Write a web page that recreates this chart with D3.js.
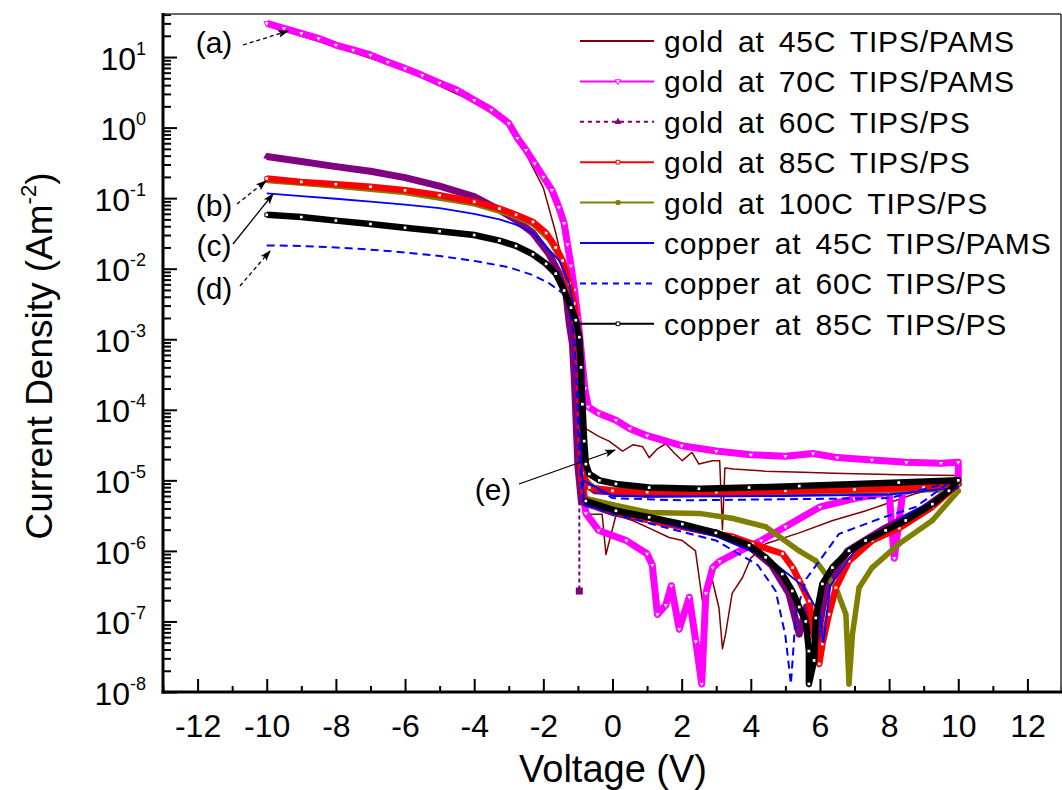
<!DOCTYPE html>
<html>
<head>
<meta charset="utf-8">
<script src="https://cdn.jsdelivr.net/npm/d3@7"></script>
<style>
  body { margin: 0; background: #fff; }
  text { font-family: "Liberation Sans", Arial, sans-serif; fill: #000; }
</style>
</head>
<body>
<svg id="chart" width="1062" height="790"></svg>
<script>
// Data: [voltage (V), current density (A m^-2)], in sweep order
const gold45 = [[-10,28],[-8,14],[-6,6.6],[-4,2.3],[-3,1.1],[-2.5,0.42],[-2,0.14],[-1.64,0.032],[-1.4,0.010],
  [-1.2,2.5e-3],[-1.05,5.0e-4],[-0.95,1.0e-4],[-0.77,5.4e-5],[-0.4,4.2e-5],[-0.1,3.6e-5],[0.29,2.6e-5],
  [0.6,3.2e-5],[0.87,3.0e-5],[1.06,2.1e-5],[1.3,2.8e-5],[1.54,3.3e-5],[1.8,2.4e-5],[2.02,1.9e-5],[2.3,2.5e-5],
  [2.5,1.7e-5],[2.89,1.9e-5],[3.1,1.9e-5],[3.18,2.0e-6],[3.25,1.5e-5],[3.5,1.45e-5],[4.4,1.35e-5],[5.5,1.3e-5],
  [6.4,1.26e-5],[8.3,1.2e-5],[10,1.17e-5],[10,8.9e-6],[8.77,6.5e-6],[7.33,3.7e-6],[6.37,2.7e-6],[5.4,1.8e-6],
  [4.43,1.26e-6],[4.0,7.9e-7],[3.76,4.2e-7],[3.46,2.5e-7],[3.27,6.6e-8],[3.18,4.1e-8],[3.08,1.55e-7],
  [2.89,3.8e-7],[2.6,1.95e-7],[2.4,1.0e-6],[2.02,1.4e-6],[1.64,1.55e-6],[1.06,2.1e-6],[0.58,2.7e-6],
  [0.1,3.2e-6],[-0.19,8.9e-7],[-0.3,3.3e-6],[-0.67,3.3e-6],[-0.85,6.3e-6]];

const gold70 = [[-10,30],[-9.5,25.5],[-9,21.7],[-8.5,18.4],[-8,14.8],[-7.5,12.6],[-7,10.7],[-6.5,8.5],[-6,6.9],
  [-5.5,5.5],[-5,4.3],[-4.5,3.4],[-4,2.45],[-3.5,1.78],[-3,1.15],[-2.75,0.71],[-2.5,0.48],[-2.25,0.31],[-2,0.20],
  [-1.75,0.13],[-1.55,0.074],[-1.4,0.044],[-1.3,0.022],[-1.2,0.011],[-1.1,5.0e-3],[-1,2.0e-3],[-0.9,6.3e-4],
  [-0.8,2.0e-4],[-0.7,1.1e-4],[-0.4,8.9e-5],[0.1,7.1e-5],[0.5,5.4e-5],[1,4.3e-5],[2,3.1e-5],[3,2.6e-5],
  [4,2.3e-5],[5,2.2e-5],[5.8,2.4e-5],[6.5,2.1e-5],[7.5,1.95e-5],[8.5,1.8e-5],[9.5,1.75e-5],[10,1.8e-5],
  [10,1.0e-5],[9.25,8.3e-6],[8.4,7.1e-6],[8.15,7.9e-7],[8,6.8e-6],[7,5.5e-6],[6,4.2e-6],[5,2.2e-6],[4.3,1.4e-6],
  [3.6,9.5e-7],[3.1,7.1e-7],[2.9,5.8e-7],[2.7,2.5e-7],[2.58,1.3e-8],[2.41,5.2e-8],[2.22,2.2e-7],[1.93,7.8e-8],
  [1.7,3.2e-7],[1.54,1.7e-7],[1.3,1.26e-7],[1.15,6.3e-7],[1,9.1e-7],[0.4,1.4e-6],[-0.4,1.95e-6],[-0.77,3.4e-6],
  [-0.9,1.0e-5]];

const gold60 = [[-10,0.39],[-9,0.33],[-8,0.28],[-7,0.24],[-6,0.195],[-5,0.148],[-4,0.105],[-3.27,0.068],
  [-2.79,0.049],[-2.3,0.032],[-1.83,0.016],[-1.54,8.5e-3],[-1.35,4.5e-3],[-1.25,1.66e-3],[-1.16,8.7e-4],
  [-1.1,2.5e-4],[-1.05,6.3e-5],[-1,1.6e-5],[-0.9,5.0e-6],[0,3.5e-6],[1,2.8e-6],[2,2.3e-6],[3,1.8e-6],[4,1.1e-6],
  [4.6,6.3e-7],[5.1,2.5e-7],[5.4,6.6e-8],[5.6,1.6e-7],[5.9,5.0e-8],[6.2,3.2e-7],[6.8,1.0e-6],[7.8,2.0e-6],
  [9,4.0e-6],[10,8.9e-6],[9,7.6e-6],[7,7.1e-6],[5,6.8e-6],[3,6.6e-6],[1,6.3e-6],[-0.5,7.1e-6],[-0.9,1.0e-5]];
const gold60Drop = [[-0.96,5.0e-6],[-0.96,2.7e-7]];

const gold85 = [[-10,0.19],[-9,0.17],[-8,0.158],[-7,0.145],[-6,0.129],[-5,0.11],[-4,0.089],[-3.27,0.071],
  [-2.79,0.058],[-2.3,0.046],[-1.92,0.032],[-1.64,0.020],[-1.44,0.013],[-1.25,6.2e-3],[-1.11,3.2e-3],
  [-1.01,1.07e-3],[-0.97,2.5e-4],[-0.93,5.0e-5],[-0.9,1.26e-5],[-0.8,5.1e-6],[0,3.8e-6],[1.06,2.7e-6],
  [2,2.2e-6],[2.99,1.74e-6],[3.46,1.6e-6],[4.05,1.26e-6],[4.92,9.1e-7],[5.21,5.8e-7],[5.4,3.8e-7],[5.69,1.95e-7],
  [5.83,6.6e-8],[5.98,2.5e-8],[6.07,4.8e-8],[6.26,1.26e-7],[6.46,3.0e-7],[6.84,7.2e-7],[7.51,1.4e-6],
  [8.29,2.1e-6],[9.25,4.2e-6],[10,8.9e-6],[9,7.9e-6],[7,7.4e-6],[5,7.1e-6],[3,6.8e-6],[1,6.8e-6],[0,7.1e-6],
  [-0.67,7.9e-6],[-0.88,1.26e-5]];

const gold100 = [[-10,0.178],[-8,0.148],[-6,0.12],[-4,0.083],[-3,0.060],[-2.3,0.043],[-1.8,0.025],[-1.44,0.012],
  [-1.25,5.6e-3],[-1.1,2.5e-3],[-1,7.9e-4],[-0.95,1.6e-4],[-0.9,2.5e-5],[-0.8,5.6e-6],[0.1,4.4e-6],[1.06,3.5e-6],
  [2.5,3.4e-6],[3.46,2.9e-6],[4.43,2.2e-6],[5.4,1.0e-6],[5.88,7.2e-7],[6.46,3.0e-7],[6.75,1.26e-7],[6.84,1.3e-8],
  [6.94,6.6e-8],[7.13,3.0e-7],[7.51,5.8e-7],[8.29,1.26e-6],[9.25,2.7e-6],[10,7.1e-6],[9,7.4e-6],[7,7.1e-6],
  [5,6.9e-6],[3,6.8e-6],[1,6.9e-6],[-0.5,7.6e-6],[-0.88,1.1e-5]];

const copper45 = [[-10,0.117],[-9,0.107],[-8,0.098],[-7,0.089],[-6,0.081],[-5,0.072],[-4,0.060],[-3.27,0.050],
  [-2.79,0.042],[-2.3,0.032],[-2.02,0.023],[-1.54,0.013],[-1.25,6.2e-3],[-1.1,2.5e-3],[-1,6.3e-4],[-0.95,1.0e-4],
  [-0.9,1.6e-5],[-0.8,4.5e-6],[1,2.8e-6],[3,1.6e-6],[4.5,7.9e-7],[5.5,3.2e-7],[6,1.26e-7],[6.1,5.0e-8],
  [6.3,3.2e-7],[7,1.0e-6],[8.48,3.2e-6],[10,7.9e-6],[8,6.3e-6],[5,6.0e-6],[2,5.9e-6],[0,6.0e-6],[-0.85,1.0e-5]];

const copper60 = [[-10,0.0214],[-9,0.021],[-8,0.020],[-7,0.0186],[-6,0.017],[-5,0.0151],[-4,0.0129],[-3,0.0105],
  [-2.3,8.1e-3],[-1.83,6.2e-3],[-1.44,4.5e-3],[-1.25,2.9e-3],[-1.1,1.0e-3],[-1.02,1.6e-4],[-0.97,2.5e-5],
  [-0.85,4.5e-6],[1,2.5e-6],[3,1.4e-6],[4.2,6.3e-7],[4.72,2.7e-7],[5,6.3e-8],[5.16,1.3e-8],[5.3,1.26e-7],
  [5.6,4.0e-7],[6.55,1.74e-6],[7.8,2.95e-6],[8.77,4.2e-6],[9.83,1.0e-5],[10,1.0e-5],[8,5.6e-6],[5,5.4e-6],
  [2,5.2e-6],[0,5.6e-6],[-0.85,1.0e-5]];

const copper85 = [[-10,0.058],[-9,0.054],[-8,0.048],[-7,0.043],[-6,0.038],[-5,0.034],[-4,0.030],[-3.27,0.025],
  [-2.79,0.021],[-2.3,0.016],[-1.92,0.0117],[-1.64,8.5e-3],[-1.4,4.9e-3],[-1.2,2.8e-3],[-1.06,1.86e-3],
  [-0.96,1.07e-3],[-0.91,4.0e-4],[-0.87,1.2e-4],[-0.82,3.6e-5],[-0.77,1.7e-5],[-0.67,1.23e-5],[-0.38,1.0e-5],
  [0.1,8.9e-6],[1.06,7.9e-6],[2.5,7.6e-6],[3.95,7.9e-6],[5.4,8.3e-6],[8.28,9.3e-6],[10,1.0e-5],[9.73,7.1e-6],
  [9.25,4.6e-6],[8.48,2.7e-6],[7.9,1.95e-6],[7.32,1.4e-6],[6.84,1.0e-6],[6.36,5.8e-7],[6.07,3.4e-7],
  [5.88,1.12e-7],[5.83,2.8e-8],[5.68,1.3e-8],[5.68,3.8e-8],[5.59,1.0e-7],[5.4,1.6e-7],[5.2,2.7e-7],[4.91,4.7e-7],
  [4.43,8.1e-7],[3.95,1.2e-6],[2.99,1.8e-6],[2.02,2.4e-6],[1.06,3.0e-6],[0.1,3.7e-6],[-0.77,5.1e-6]];

const seriesNames = ["gold at 45C TIPS/PAMS", "gold at 70C TIPS/PAMS", "gold at 60C TIPS/PS", "gold at 85C TIPS/PS",
  "gold at 100C TIPS/PS", "copper at 45C TIPS/PAMS", "copper at 60C TIPS/PS", "copper at 85C TIPS/PS"];
const xTicks = [-12, -10, -8, -6, -4, -2, 0, 2, 4, 6, 8, 10, 12];
const xMinorTicks = [-13, -11, -9, -7, -5, -3, -1, 1, 3, 5, 7, 9, 11, 13];
const yTickExponents = [-8, -7, -6, -5, -4, -3, -2, -1, 0, 1];
const annotations = ["(a)", "(b)", "(c)", "(d)", "(e)"];

// styles per series
const series = [
  { name: seriesNames[0], data: gold45, color: "#800000", width: 1.5 },
  { name: seriesNames[1], data: gold70, color: "#ff00ff", width: 7, marker: "down", open: true },
  { name: seriesNames[2], data: gold60, color: "#800080", width: 7, marker: "up", open: false, legendDash: "4,4" },
  { name: seriesNames[3], data: gold85, color: "#ff0000", width: 6.5, marker: "square", open: true },
  { name: seriesNames[4], data: gold100, color: "#808000", width: 5.5, marker: "square", open: false },
  { name: seriesNames[5], data: copper45, color: "#0000ff", width: 1.8 },
  { name: seriesNames[6], data: copper60, color: "#0000ff", width: 2, dash: "8,5", legendDash: "6,5" },
  { name: seriesNames[7], data: copper85, color: "#000000", width: 6.5, marker: "square", open: true }
];
const drawOrder = [0, 1, 2, 4, 3, 5, 6, 7];

const svg = d3.select("#chart");
const margin = { left: 163, right: 1062, top: 14, bottom: 692 };

const x = d3.scaleLinear().domain([-13, 13]).range([margin.left, margin.right]);
const y = d3.scaleLog().domain([1e-8, Math.pow(10, 1.61)]).range([margin.bottom, margin.top]);

svg.append("defs").append("clipPath").attr("id", "plot-clip")
   .append("rect")
   .attr("x", margin.left).attr("y", margin.top)
   .attr("width", margin.right - margin.left).attr("height", margin.bottom - margin.top);

svg.select("defs").append("marker")
   .attr("id", "arrow").attr("viewBox", "0 0 10 10")
   .attr("refX", 9).attr("refY", 5)
   .attr("markerWidth", 13).attr("markerHeight", 11)
   .attr("markerUnits", "userSpaceOnUse")
   .attr("orient", "auto")
   .append("path").attr("d", "M0,1.5 L10,5 L0,8.5 L2,5 Z").attr("fill", "#000");

const line = d3.line().x(d => x(d[0])).y(d => y(d[1]));

function symbolPath(kind, size) {
  if (kind === "square") return d3.symbol(d3.symbolSquare, size)();
  return d3.symbol(d3.symbolTriangle, size)();
}

// curves
const plot = svg.append("g").attr("clip-path", "url(#plot-clip)");

drawOrder.forEach(i => {
  const s = series[i];
  const g = plot.append("g");
  g.append("path")
   .datum(s.data)
   .attr("fill", "none")
   .attr("stroke", s.color)
   .attr("stroke-width", s.width)
   .attr("stroke-linejoin", "round")
   .attr("stroke-dasharray", s.dash || null)
   .attr("d", line);

  if (s.marker) {
    g.selectAll("path.pt")
     .data(s.data)
     .enter()
     .append("path")
     .attr("class", "pt")
     .attr("d", symbolPath(s.marker, 14))
     .attr("transform", d => `translate(${x(d[0])},${y(d[1])})` + (s.marker === "down" ? " rotate(180)" : ""))
     .attr("fill", s.open ? "#fff" : s.color)
     .attr("stroke", s.color)
     .attr("stroke-width", 1);
  }

  // gold 60C also has a dashed drop just below -1 V
  if (i === 2) {
    g.append("path")
     .datum(gold60Drop)
     .attr("fill", "none")
     .attr("stroke", s.color)
     .attr("stroke-width", 2)
     .attr("stroke-dasharray", "4,3")
     .attr("d", line);
    g.append("rect")
     .attr("x", x(gold60Drop[1][0]) - 3.5).attr("y", y(gold60Drop[1][1]) - 3.5)
     .attr("width", 7).attr("height", 7)
     .attr("fill", s.color);
  }
});

// axes
const xAxis = svg.append("g")
  .attr("transform", `translate(0,${margin.bottom})`)
  .call(d3.axisBottom(x).tickValues(xTicks).tickSizeInner(-13).tickSizeOuter(0).tickPadding(22)
        .tickFormat(d => String(d)));
const xAxisMinor = svg.append("g")
  .attr("transform", `translate(0,${margin.bottom})`)
  .call(d3.axisBottom(x).tickValues(xMinorTicks).tickSizeInner(-6).tickSizeOuter(0).tickFormat(""));

const yMajor = yTickExponents.map(e => Math.pow(10, e));
const yMinor = [];
yTickExponents.forEach(e => {
  for (let m = 2; m <= 9; m++) {
    const v = m * Math.pow(10, e);
    if (v <= y.domain()[1]) yMinor.push(v);
  }
});

const yAxis = svg.append("g")
  .attr("transform", `translate(${margin.left},0)`)
  .call(d3.axisLeft(y).tickValues(yMajor).tickSizeInner(-14).tickSizeOuter(0).tickPadding(17)
        .tickFormat(""));
const yAxisMinor = svg.append("g")
  .attr("transform", `translate(${margin.left},0)`)
  .call(d3.axisLeft(y).tickValues(yMinor).tickSizeInner(-8).tickSizeOuter(0).tickFormat(""));

[xAxis, xAxisMinor, yAxis, yAxisMinor].forEach(a => {
  a.select(".domain").remove();
  a.selectAll(".tick line").attr("stroke", "#000").attr("stroke-width", 2);
});

xAxis.selectAll("text").attr("font-size", 32).attr("fill", "#000");

yAxis.selectAll("text")
  .attr("font-size", 32)
  .attr("fill", "#000")
  .attr("dy", "0.38em")
  .each(function(d) {
    const t = d3.select(this);
    t.text(null);
    t.append("tspan").text("10");
    t.append("tspan").attr("dy", -15).attr("font-size", 18).text(String(Math.round(Math.log10(d))));
  });

// frame
svg.append("line").attr("x1", margin.left).attr("x2", margin.right - 1)
   .attr("y1", margin.top).attr("y2", margin.top).attr("stroke", "#333").attr("stroke-width", 1.5);
svg.append("line").attr("x1", margin.right - 1).attr("x2", margin.right - 1)
   .attr("y1", margin.top).attr("y2", margin.bottom).attr("stroke", "#333").attr("stroke-width", 1.5);
svg.append("line").attr("x1", margin.left).attr("x2", margin.left)
   .attr("y1", margin.top - 1).attr("y2", margin.bottom + 1.5).attr("stroke", "#000").attr("stroke-width", 3);
svg.append("line").attr("x1", margin.left - 1.5).attr("x2", margin.right)
   .attr("y1", margin.bottom).attr("y2", margin.bottom).attr("stroke", "#000").attr("stroke-width", 3);

// axis titles
svg.append("text")
   .attr("x", 613).attr("y", 782)
   .attr("text-anchor", "middle").attr("font-size", 38)
   .text("Voltage (V)");

const yTitle = svg.append("text")
   .attr("transform", "translate(52,356) rotate(-90)")
   .attr("text-anchor", "middle").attr("font-size", 37);
yTitle.append("tspan").text("Current Density (Am");
yTitle.append("tspan").attr("dy", -16).attr("font-size", 22).text("-2");
yTitle.append("tspan").attr("dy", 16).text(")");

// legend
const legend = svg.append("g");
const rowY = i => 41 + i * 40.4;
series.forEach((s, i) => {
  const row = legend.append("g").attr("transform", `translate(0,${rowY(i)})`);
  row.append("line")
     .attr("x1", 580).attr("x2", 654).attr("y1", 0).attr("y2", 0)
     .attr("stroke", s.color).attr("stroke-width", 2)
     .attr("stroke-dasharray", s.legendDash || s.dash || null);
  if (s.marker) {
    row.append("path")
       .attr("d", symbolPath(s.marker, 14))
       .attr("transform", "translate(618,0)" + (s.marker === "down" ? " rotate(180)" : ""))
       .attr("fill", s.open ? "#fff" : s.color)
       .attr("stroke", s.color).attr("stroke-width", 1);
  }
  row.append("text")
     .attr("x", 664).attr("y", 11)
     .attr("font-size", 30).attr("letter-spacing", 0.8).attr("word-spacing", 5)
     .text(s.name);
});

// annotations (label, text position, arrow from -> to, dashed?)
const notes = [
  { label: annotations[0], tx: 214, ty: 53, from: [243, 45], to: [288, 31], dash: "4,3" },
  { label: annotations[1], tx: 214, ty: 216, from: [237, 204], to: [266, 181], dash: "4,3" },
  { label: annotations[2], tx: 214, ty: 256, from: [233, 244], to: [273, 194], dash: null },
  { label: annotations[3], tx: 214, ty: 299, from: [240, 286], to: [270, 251], dash: "4,3" },
  { label: annotations[4], tx: 493, ty: 500, from: [519, 484], to: [615, 450], dash: null }
];
notes.forEach(n => {
  svg.append("text").attr("x", n.tx).attr("y", n.ty)
     .attr("text-anchor", "middle").attr("font-size", 30).text(n.label);
  svg.append("line")
     .attr("x1", n.from[0]).attr("y1", n.from[1]).attr("x2", n.to[0]).attr("y2", n.to[1])
     .attr("stroke", "#000").attr("stroke-width", 1.3)
     .attr("stroke-dasharray", n.dash)
     .attr("marker-end", "url(#arrow)");
});
</script>
</body>
</html>
